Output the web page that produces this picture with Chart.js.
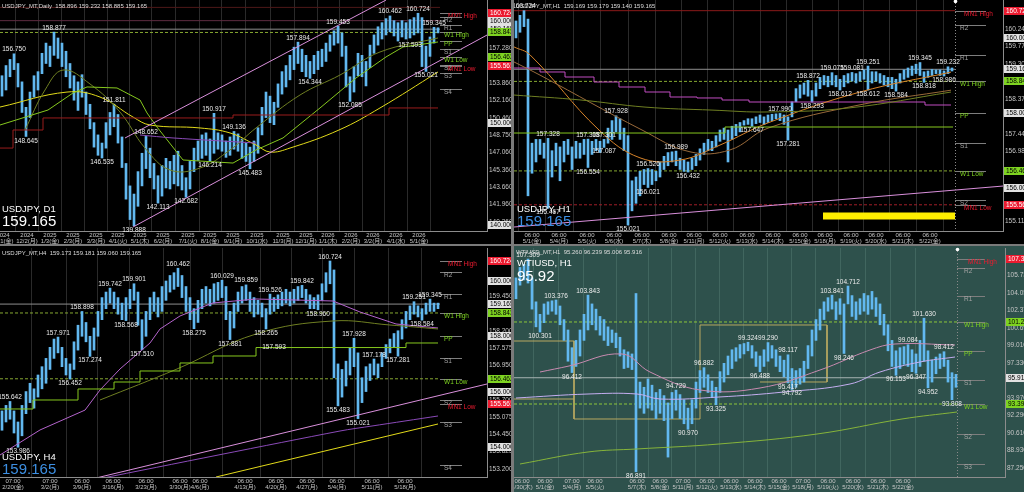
<!DOCTYPE html>
<html><head><meta charset="utf-8">
<script src="https://cdn.jsdelivr.net/npm/chart.js@4.4.1/dist/chart.umd.min.js"></script>
<style>
html,body{margin:0;padding:0;width:1024px;height:492px;overflow:hidden;background:#7a7a7a;}
canvas{position:absolute;display:block;}
</style></head><body>
<canvas id="pD1" style="left:0px;top:0px;width:511px;height:244px" width="511" height="244"></canvas>
<canvas id="pH1" style="left:514px;top:0px;width:510px;height:244px" width="510" height="244"></canvas>
<canvas id="pH4" style="left:0px;top:246px;width:511px;height:246px" width="511" height="246"></canvas>
<canvas id="pWTI" style="left:514px;top:246px;width:510px;height:246px" width="510" height="246"></canvas>
<script>
// ================= DATA =================
// --- USDJPY Daily (bar ranges, each bar ~4 sessions) ---
const d1Low = [152.6,153.2,154.5,155.2,153.5,151.0,148.645,150.5,152.5,153.2,
154.8,155.8,155.5,156.6,156.3,155.5,154.5,153.4,152.2,151.2,
152.5,150.8,149.4,147.6,146.8,146.535,147.5,148.8,149.6,148.0,
145.6,142.5,140.5,139.888,141.8,143.8,145.5,144.6,143.5,142.113,
142.8,143.6,143.5,144.0,143.8,143.4,142.682,143.5,145.2,146.3,
146.5,146.8,146.214,147.0,147.4,147.2,146.6,146.8,147.4,147.2,
146.5,146.2,145.483,146.2,147.0,148.8,150.5,150.0,149.8,151.5,
152.8,153.5,154.2,155.2,155.8,155.0,154.5,154.344,154.8,155.2,
155.5,156.0,157.0,157.6,157.8,156.5,153.5,152.085,153.0,154.6,
154.5,153.6,155.4,156.8,157.6,158.2,158.6,158.9,158.5,158.0,
158.4,158.2,158.3,158.6,158.8,155.5,155.021,156.5,157.8,158.8];
const d1High = [154.6,155.6,156.2,156.75,155.8,154.0,151.5,153.0,154.6,155.0,
156.8,157.8,157.5,158.877,158.3,157.8,157.0,155.8,154.6,154.0,
154.7,153.0,151.8,150.0,148.8,148.0,150.0,151.0,151.811,150.8,
148.6,146.0,143.8,143.0,145.2,147.0,148.652,147.5,146.0,144.8,
145.8,146.5,146.2,146.8,147.2,145.8,144.6,146.2,147.5,148.2,
148.8,149.0,148.4,150.917,149.0,148.8,148.2,148.6,149.136,148.9,
148.4,148.0,147.6,148.2,149.5,151.5,153.0,152.6,152.0,153.8,
155.0,155.6,156.6,157.4,157.894,157.2,156.6,156.0,156.6,157.0,
157.2,157.8,158.6,159.0,159.453,158.8,157.5,154.5,155.5,156.8,
156.6,156.0,157.6,158.6,159.4,159.8,160.2,160.462,160.0,159.8,
160.0,159.8,160.1,160.3,160.724,160.3,157.5,158.4,159.345,159.3];
const d1TimeIdx = [0.25,6.25,12,17.75,23.5,29,34.5,40.25,46.5,52,57.75,63.75,70.25,76,81.5,87.25,92.75,98.5,104.25];
const d1TimeLbl = [['2024','11/1(金)'],['2024','12/2(月)'],['2025','1/3(金)'],['2025','2/3(月)'],['2025','3/3(月)'],['2025','4/1(火)'],['2025','5/1(木)'],['2025','6/2(月)'],['2025','7/1(火)'],['2025','8/1(金)'],['2025','9/1(月)'],['2025','10/1(水)'],['2025','11/3(月)'],['2025','12/1(月)'],['2026','1/1(木)'],['2026','2/2(月)'],['2026','3/2(月)'],['2026','4/1(水)'],['2026','5/1(金)']];
const d1PriceTicks = [140.26,141.96,143.66,145.36,147.06,148.75,150.46,152.16,153.86,157.28];
const d1BoxVals = [160.724,160.000,159.165,158.843,156.462,155.561,150.000,140.000];
const d1BoxKinds = ['R','W','W','G','G','R','W','W'];
const d1MarkIdx = [3,6,13,25,28,33,36,39,46,52,53,58,62,74,77,84,87,97,104,106,108,102];
const d1MarkVal = [156.750,148.645,158.877,146.535,151.811,139.888,148.652,142.113,142.682,146.214,150.917,149.136,145.483,157.894,154.344,159.453,152.085,160.462,160.724,155.021,159.345,157.593];
const d1MarkDir = [1,-1,1,-1,1,-1,1,-1,-1,-1,1,1,-1,1,-1,1,-1,1,1,-1,1,0];
const d1ChanHiIdx = [30.75,96], d1ChanHiVal = [148.495,162.02];
const d1ChanLoIdx = [32.75,121.25], d1ChanLoVal = [139.77,158.59];
const d1YellowIdx = [-0.5,16.25,24.5,32.75,37,49.5,57,63.5,67,72,84.25,94.5,109];
const d1YellowVal = [151.53,153.0,152.51,150.55,149.77,149.48,148.99,147.81,147.12,147.51,149.28,151.44,154.97];
const d1OliveIdx = [5.75,10.75,15.25,22,29.5,35.75,42,49.5,57,63.5,74.5,84.5,94.5,109];
const d1OliveVal = [149.28,153.2,155.16,153.79,151.04,147.51,145.36,145.55,147.32,149.48,152.71,154.67,156.93,158.3];
const d1LimeIdx = [-0.5,11.5,17.75,21.25,28.75,34.5,36.25,38.75,45.25,57.75,63.5,70.25,79.5,88.5,96,100.25,109];
const d1LimeVal = [149.77,151.24,152.91,153.5,153.4,152.22,150.95,149.57,146.34,146.04,147.32,148.5,151.44,154.38,156.44,157.42,157.91];
const d1RedIdx = [-0.5,2.75,10.25,57.75,96.75,109];
const d1RedVal = [147.51,149.28,150.46,150.75,151.44,151.44];
const d1VioletIdx = [34.5,42.75,63.5], d1VioletVal = [148.79,148.5,148.0];

// --- USDJPY H1 ---
const h1Low = [160.0,160.15,160.3,155.8,156.4,156.7,156.9,156.8,155.467,156.3,
156.6,156.2,156.7,156.9,156.5,156.8,156.8,156.9,156.554,156.9,
157.0,156.95,157.087,157.2,157.3,157.5,157.3,157.0,155.021,155.4,
155.6,155.8,156.1,156.021,156.1,156.2,156.3,156.5,156.6,156.7,
156.6,156.5,156.45,156.432,156.5,156.6,156.75,156.9,157.0,157.0,
157.1,157.25,157.3,156.7,157.3,157.4,157.5,157.68,157.7,157.647,
157.72,157.75,157.7,157.75,157.8,157.85,157.8,157.7,157.281,157.9,
158.3,158.4,158.5,158.45,158.293,158.45,158.65,158.75,158.7,158.75,
158.7,158.612,158.7,158.8,158.85,158.8,158.85,158.9,158.612,158.8,
158.85,158.8,158.75,158.7,158.65,158.584,158.8,158.9,158.95,159.0,
159.05,159.0,158.818,158.95,159.0,159.05,159.0,158.986,159.05,159.12];
const h1High = [160.45,160.6,160.724,160.5,157.2,157.3,157.3,157.2,157.328,157.0,
157.2,157.1,157.25,157.3,157.1,157.25,157.2,157.3,157.308,157.25,
157.3,157.25,157.301,157.6,157.8,157.928,157.85,157.6,157.4,156.2,
156.3,156.45,156.5,156.526,156.5,156.45,156.7,156.85,156.95,156.97,
156.989,156.8,156.75,156.7,156.8,156.9,157.05,157.2,157.3,157.25,
157.4,157.55,157.6,157.55,157.65,157.7,157.75,157.8,157.85,157.85,
157.9,157.95,157.9,157.95,157.97,157.98,157.99,157.95,157.9,158.3,
158.65,158.75,158.8,158.872,158.6,158.8,158.95,159.0,158.98,159.075,
159.0,158.9,159.0,159.05,159.081,159.05,159.1,159.15,159.251,159.1,
159.1,159.05,159.0,158.95,158.95,158.9,159.05,159.15,159.2,159.25,
159.3,159.345,159.1,159.12,159.16,159.15,159.15,159.12,159.232,159.2];
const h1TimeIdx = [4,10.75,17.75,24.5,31.5,38.25,44.5,51,57.75,64.25,71,77.25,83.75,90,96.75,103.5];
const h1TimeLbl = [['06:00','5/1(金)'],['06:00','5/4(月)'],['06:00','5/5(火)'],['06:00','5/6(水)'],['06:00','5/7(木)'],['06:00','5/8(金)'],['06:00','5/11(月)'],['06:00','5/12(火)'],['06:00','5/13(水)'],['06:00','5/14(木)'],['06:00','5/15(金)'],['06:00','5/18(月)'],['06:00','5/19(火)'],['06:00','5/20(水)'],['06:00','5/21(木)'],['06:00','5/22(金)']];
const h1PriceTicks = [160.24,159.77,159.30,158.375,157.445,156.98,155.115];
const h1BoxVals = [160.724,160.000,159.165,158.843,158.000,156.462,156.000,155.561];
const h1BoxKinds = ['R','W','W','G','W','G','W','R'];
const h1MarkIdx = [2,8,8,18,18,22,22,25,28,33,33,40,43,59,66,68,73,74,79,81,84,88,88,95,101,102,107,108];
const h1MarkVal = [160.724,157.328,155.467,157.308,156.554,157.301,157.087,157.928,155.021,156.526,156.021,156.989,156.432,157.647,157.990,157.281,158.872,158.293,159.075,158.612,159.081,159.251,158.612,158.584,159.345,158.818,158.986,159.232];
const h1MarkDir = [1,1,-1,1,-1,1,-1,1,-1,1,-1,1,-1,-1,1,-1,1,-1,1,-1,1,1,-1,-1,1,-1,-1,1];
const h1OliveIdx = [-0.5,16,32.25,49,63,83.5,108.75], h1OliveVal = [158.48,158.35,158.16,158.08,158.03,158.14,158.56];
const h1OrangeIdx = [-0.5,3.5,20.75,31,41,51,63,86,108.75], h1OrangeVal = [159.76,159.55,157.55,156.81,156.75,157.15,157.74,158.56,159.09];
const h1BrownIdx = [-0.5,6,31.5,43.5,53.5,63,86,108.75], h1BrownVal = [159.36,159.01,157.55,156.97,157.02,157.6,158.22,158.61];
const h1MagIdx = [-0.5,6,12.25,19.5,25.75,32.25,38.5,45.25,51.5,58.25,102.25,108.75];
const h1MagVal = [159.199,159.093,158.96,158.827,158.694,158.561,158.428,158.402,158.348,158.295,158.215,158.215];
const h1LimeIdx = [-0.5,52.25,109.25], h1LimeVal = [157.47,157.63,157.63];
const h1TrendIdx = [-0.5,121.75], h1TrendVal = [154.97,156.06];
const h1YellowIdx = [76.75,109.75], h1YellowVal = [155.26,155.26];

// --- USDJPY H4 ---
const h4Low = [154.6,154.9,155.0,154.5,153.986,154.4,155.2,155.6,155.4,155.8,
156.1,156.3,156.8,157.2,157.4,156.9,156.6,156.452,156.8,157.5,
158.0,157.8,157.274,157.5,158.0,158.6,159.0,159.2,159.0,158.8,
158.6,158.568,159.0,159.3,158.4,157.51,158.0,158.6,158.9,158.7,
158.9,159.3,159.6,159.7,159.8,159.4,158.9,158.6,158.275,158.5,
159.0,159.2,159.1,159.2,159.3,159.4,158.6,157.881,158.3,158.9,
159.2,159.3,158.9,158.7,158.8,158.7,158.265,158.8,158.9,159.0,
159.1,159.2,159.1,159.2,159.3,159.4,159.2,159.0,159.0,158.96,
159.3,159.6,159.9,156.5,155.483,155.8,156.2,156.6,156.9,155.021,
155.6,156.0,156.4,156.6,156.5,156.9,157.2,157.4,157.6,157.281,
157.9,158.3,158.6,158.8,158.7,158.584,158.8,158.9,158.9,159.0];
const h4High = [155.3,155.5,155.642,155.3,154.9,155.5,156.0,156.3,156.1,156.6,
156.9,157.2,157.6,157.9,157.971,157.6,157.2,157.0,157.8,158.4,
158.898,158.5,158.0,158.3,158.9,159.4,159.6,159.742,159.6,159.4,
159.2,159.4,159.7,159.901,159.6,158.6,158.9,159.4,159.6,159.4,
159.8,160.0,160.2,160.3,160.462,160.2,159.8,159.4,159.0,159.3,
159.7,159.8,159.7,159.9,159.95,160.029,159.8,158.9,159.2,159.6,
159.8,159.859,159.6,159.4,159.3,159.2,159.0,159.526,159.4,159.5,
159.6,159.7,159.6,159.7,159.8,159.842,159.7,159.5,159.4,159.5,
159.9,160.3,160.724,160.4,157.0,156.8,157.1,157.6,157.928,157.4,
156.5,156.9,157.0,157.178,157.0,157.4,157.7,157.9,158.1,158.2,
158.6,158.9,159.1,159.251,159.1,159.0,159.2,159.345,159.2,159.2];
const h4TimeIdx = [2.75,12,20,27.75,36,44.5,49.5,60.75,68.5,76.25,83.75,92.5,100.75];
const h4TimeLbl = [['07:00','2/20(金)'],['07:00','3/2(月)'],['06:00','3/9(月)'],['06:00','3/16(月)'],['06:00','3/23(月)'],['06:00','3/30(月)'],['06:00','4/6(月)'],['06:00','4/13(月)'],['06:00','4/20(月)'],['06:00','4/27(月)'],['06:00','5/4(月)'],['06:00','5/11(月)'],['06:00','5/18(月)']];
const h4PriceTicks = [159.45,158.2,157.575,156.95,155.7,155.075,154.45,153.825,153.2];
const h4BoxVals = [160.724,160.000,159.165,158.843,158.000,156.462,156.000,155.561,154.000];
const h4BoxKinds = ['R','W','W','G','W','G','W','R','W'];
const h4MarkIdx = [2,4,14,17,20,22,27,31,33,35,44,48,55,57,61,66,67,75,79,82,84,88,89,93,99,103,105,107,68];
const h4MarkVal = [155.642,153.986,157.971,156.452,158.898,157.274,159.742,158.568,159.901,157.510,160.462,158.275,160.029,157.881,159.859,158.265,159.526,159.842,158.960,160.724,155.483,157.928,155.021,157.178,157.281,159.251,158.584,159.345,157.593];
const h4MarkDir = [1,-1,1,-1,1,-1,1,-1,1,-1,1,-1,1,-1,1,-1,1,1,-1,1,-1,1,-1,1,-1,1,-1,1,0];
const h4VioletIdx = [-0.5,9.5,20.75,24.5,29.5,37,39.5,44.5,49.5,52.75,63.5,82.75,89.5,98.5,109];
const h4VioletVal = [153.705,154.61,155.33,156.057,156.817,157.757,158.264,158.734,159.024,159.205,159.349,159.277,158.879,158.445,158.30];
const h4OliveIdx = [24.5,43.75,63.5,82.75,97,109], h4OliveVal = [155.695,156.817,158.083,158.554,158.408,158.264];
const h4LimeIdx = [-0.5,7.75,19,28,34.5,44.5,52.75,63.5,101,109];
const h4LimeVal = [155.37,155.695,156.093,156.346,156.744,157.034,157.287,157.593,157.757,157.757];
const h4YellowIdx = [53.5,109], h4YellowVal = [152.909,154.827];
const h4TrendIdx = [22.5,121.25], h4TrendVal = [152.837,156.274];
const h4PurpleIdx = [24,84.5,92.5,109], h4PurpleVal = [152.837,154.573,154.754,155.116];

// --- shared USDJPY pivot levels ---
const usdLevelNames = ['MN1 High','R2','R1','W1 High','PP','S1','W1 Low','S2','MN1 Low','S3','S4'];
const usdLevelVals = [160.724,160.34,159.545,158.843,158.0,157.205,156.462,155.69,155.561,154.9,153.344];
const usdLevelKind = ['R','N','N','G','G','N','G','N','R','N','N'];

// --- WTIUSD H1 ---
const wtiLow = [103.5,104.8,105.3,105.0,102.5,100.8,100.301,101.2,102.0,102.3,
102.0,101.0,99.5,97.5,96.412,97.0,98.0,99.5,100.5,101.0,
100.5,100.0,99.5,99.0,99.3,98.8,98.0,96.8,96.9,96.7,
86.891,93.0,92.5,93.0,92.8,92.0,92.5,91.8,88.3,92.0,
92.8,92.0,91.5,90.97,91.5,93.0,94.5,95.0,94.5,94.0,
93.325,94.5,95.5,96.2,96.8,97.5,97.8,98.2,98.5,97.8,
97.0,96.488,97.0,97.5,97.8,97.0,96.5,96.0,95.417,94.792,
95.0,95.3,95.5,96.8,98.0,99.5,100.5,101.5,102.3,102.5,
101.5,102.0,98.246,103.0,101.8,101.5,102.0,102.3,102.0,102.5,
101.8,101.0,100.0,98.5,97.0,96.153,96.8,97.2,97.0,96.5,
96.347,97.0,97.5,94.952,95.5,96.3,96.8,97.0,95.5,93.808,95.0];
const wtiHigh = [105.5,106.5,106.8,107.309,105.5,103.2,102.0,103.0,103.2,103.3,
103.376,102.8,101.5,100.5,98.8,99.5,100.5,102.0,103.843,103.0,
102.5,101.8,101.5,100.8,100.5,100.2,99.8,98.6,98.4,98.2,
104.0,95.5,95.0,95.8,95.2,94.5,94.8,94.2,93.5,94.5,
94.729,94.3,93.8,93.0,93.8,95.5,96.6,96.882,96.2,95.6,
95.0,96.5,97.3,98.0,98.6,98.8,99.1,99.2,99.324,99.0,
98.4,98.0,98.6,99.29,99.0,98.6,98.0,97.6,98.117,96.8,
96.6,96.8,97.5,99.0,100.5,101.5,102.5,103.2,103.6,103.841,
103.2,103.5,103.0,104.712,103.8,103.2,103.5,104.0,103.8,104.2,
103.6,103.0,102.0,101.0,99.5,98.5,98.8,98.9,99.084,98.6,
98.2,99.5,101.63,98.5,97.6,97.9,98.2,98.412,97.6,96.4,96.24];
const wtiTimeIdx = [1.5,7.25,14,19.75,30.25,36,41.75,47.75,53.75,59.75,65.75,71.75,78,84.25,90.5,96.75];
const wtiTimeLbl = [['06:00','4/30(木)'],['06:00','5/1(金)'],['07:00','5/4(月)'],['06:00','5/5(火)'],['06:00','5/7(木)'],['06:00','5/8(金)'],['07:00','5/11(月)'],['06:00','5/12(火)'],['06:00','5/13(水)'],['06:00','5/14(木)'],['06:00','5/15(金)'],['07:00','5/18(月)'],['06:00','5/19(火)'],['06:00','5/20(水)'],['06:00','5/21(木)'],['06:00','5/22(金)']];
const wtiPriceTicks = [105.73,104.05,102.37,100.69,99.01,97.33,93.97,92.29,90.61,88.93,87.25];
const wtiBoxVals = [107.309,101.265,95.916,93.395];
const wtiBoxKinds = ['R','G','W','G'];
const wtiMarkIdx = [3,6,10,14,18,30,40,43,47,50,58,61,63,68,68,69,79,82,83,95,98,100,102,103,107,109];
const wtiMarkVal = [107.309,100.301,103.376,96.412,103.843,86.891,94.729,90.970,96.882,93.325,99.324,96.488,99.290,98.117,95.417,94.792,103.841,98.246,104.712,96.153,99.084,96.347,101.630,94.952,98.412,93.808];
const wtiMarkDir = [1,-1,1,-1,1,-1,1,-1,1,-1,1,-1,1,1,-1,-1,1,-1,1,-1,1,-1,1,-1,1,-1];
const wtiGreenIdx = [1,18,30.25,50.75,75.25,96.5,110.25], wtiGreenVal = [87.637,88.79,89.08,89.556,90.516,91.956,92.628];
const wtiLavIdx = [0,18,30.25,36,50.75,67,83.5,91,101,109.75], wtiLavVal = [93.971,94.355,94.355,93.875,94.067,94.547,95.315,96.466,97.426,97.906];
const wtiMauveIdx = [6,13.25,26.5,33.5,46,61,76,88.5,94.75,109.75], wtiMauveVal = [96.466,97.042,98.194,96.466,94.739,94.931,96.658,98.578,99.154,99.058];
const wtiBoxLineIdx = [-0.5,14.5,14.5,46,46,77.75,77.75,61], wtiBoxLineVal = [99.441,99.441,91.956,91.956,100.977,100.977,95.507,95.507];
const wtiBox2Idx = [-0.5,14.5], wtiBox2Val = [93.875,93.875];
const wtiLevelNames = ['MN1 High','R2','R1','W1 High','PP','S1','W1 Low','S2','S3'];
const wtiLevelVals = [107.309,106.447,103.76,101.265,98.48,95.70,93.395,90.516,87.637];
const wtiLevelKind = ['R','N','N','G','G','N','G','N','N'];

// ================= RENDER =================
const FONT = '"Liberation Sans","Noto Sans CJK JP",sans-serif';
const KCOL = {R:'#ec1b30', G:'#7ed321', N:'#a4a4a4', W:'#e2e2e2'};
function pts(xs, ys){ return xs.map((x,k)=>({x:x, y:ys[k]})); }
function L(xs, ys, c, o){ return Object.assign({x:xs, y:ys, c:c}, o||{}); }

function panel(id, P){
  const ds = [];
  ds.push({type:'bar', data:P.low.map((lo,i)=>({x:i, y:[lo, P.high[i]]})), backgroundColor:'#62b8f0', barThickness:2, grouped:false, order:1});
  P.lines.forEach(l=>ds.push({type:'line', data:pts(l.x,l.y), borderColor:l.c, borderWidth:l.w||1,
    borderDash:l.d||[], stepped:l.s?'before':false, tension:l.t||0, pointRadius:0, fill:false,
    order:(l.o===undefined?0:l.o)}));
  const deco = {
    id:'deco_'+id,
    beforeDraw(c){ const x=c.ctx; x.save(); x.fillStyle=P.bg; x.fillRect(0,0,c.width,c.height); x.restore(); },
    afterDatasetsDraw(c){
      const ctx=c.ctx, xs=c.scales.x, ys=c.scales.y, a=c.chartArea;
      ctx.save();
      if(P.nowIdx!==undefined){
        const vx=Math.round(xs.getPixelForValue(P.nowIdx))+0.5;
        ctx.strokeStyle='#8a8a8a'; ctx.setLineDash([1,2]); ctx.lineWidth=1;
        ctx.beginPath(); ctx.moveTo(vx,a.top); ctx.lineTo(vx,a.bottom); ctx.stroke(); ctx.setLineDash([]);
        ctx.fillStyle='#ffffff'; ctx.beginPath(); ctx.arc(vx,a.top+1.5,1.8,0,Math.PI*2); ctx.fill();
      }
      ctx.font='6.5px '+FONT; ctx.textAlign='left'; ctx.textBaseline='middle';
      P.lvNames.forEach((n,k)=>{
        const y=Math.round(ys.getPixelForValue(P.lvVals[k]))+0.5;
        ctx.strokeStyle='#7e7e7e'; ctx.lineWidth=1;
        ctx.beginPath(); ctx.moveTo(xs.getPixelForValue(P.lvL0),y); ctx.lineTo(xs.getPixelForValue(P.lvL1),y); ctx.stroke();
        ctx.fillStyle=KCOL[P.lvKind[k]];
        ctx.fillText(n, xs.getPixelForValue(P.lvKind[k]==='R'?P.lvT+1:P.lvT), y+3);
      });
      ctx.fillStyle='#ececec'; ctx.textAlign='center';
      P.mIdx.forEach((i,k)=>{
        const v=P.mVal[k], d=P.mDir[k], x=xs.getPixelForValue(i); let y=ys.getPixelForValue(v);
        if(d>0){ ctx.textBaseline='bottom'; y-=1; } else if(d<0){ ctx.textBaseline='top'; y+=1; } else { ctx.textBaseline='middle'; }
        ctx.fillText(v.toFixed(3), x, y);
      });
      ctx.textAlign='left'; ctx.textBaseline='alphabetic';
      ctx.fillStyle='#dcdcdc'; ctx.font='6px '+FONT; ctx.fillText(P.header, 2, P.headerY);
      ctx.fillStyle='#ffffff'; ctx.font='9.5px '+FONT; ctx.fillText(P.sym, P.tx, P.symY);
      ctx.fillStyle=P.priceCol; ctx.font='15px '+FONT; ctx.fillText(P.price, P.tx, P.priceY);
      ctx.restore();
    },
    afterDraw(c){
      const ctx=c.ctx, ys=c.scales.y, a=c.chartArea;
      ctx.save();
      ctx.font='6.5px '+FONT; ctx.textAlign='left'; ctx.textBaseline='middle';
      P.boxVals.forEach((v,k)=>{
        const y=Math.round(ys.getPixelForValue(v)); const x0=a.right+1; const kd=P.boxKinds[k];
        ctx.fillStyle=KCOL[kd]; ctx.fillRect(x0,y-4,c.width-x0,8);
        ctx.fillStyle=kd==='R'?'#ffffff':'#000000'; ctx.fillText(v.toFixed(3), x0+2, y+0.5);
      });
      ctx.restore();
    }
  };
  new Chart(document.getElementById(id), {
    type:'bar',
    data:{datasets:ds},
    options:{
      responsive:false, animation:false, devicePixelRatio:1, events:[],
      layout:{padding:{top:P.padTop||0,left:0,right:0,bottom:0}},
      plugins:{legend:{display:false}, tooltip:{enabled:false}},
      scales:{
        x:{type:'linear', min:P.xMin, max:P.xMax, offset:false,
          grid:{color:P.grid, drawTicks:false, lineWidth:1},
          border:{display:true, color:'#8c8c8c'},
          ticks:{autoSkip:false, maxRotation:0, minRotation:0, color:'#c6c6c6', padding:1,
            font:{family:FONT, size:6, lineHeight:1.05}, callback:(v,i)=>P.xLbl[i]},
          afterBuildTicks:s=>{ s.ticks=P.xIdx.map(v=>({value:v})); },
          afterFit:s=>{ s.height=P.xH; s.paddingLeft=0; s.paddingRight=0; }},
        y:{type:'linear', position:'right', min:P.yMin, max:P.yMax,
          grid:{display:false, drawTicks:false},
          border:{display:true, color:'#8c8c8c'},
          ticks:{autoSkip:false, color:'#c6c6c6', padding:2, font:{family:FONT, size:6.5},
            callback:v=>Number(v).toFixed(3)},
          afterBuildTicks:s=>{ s.ticks=P.yTicks.map(v=>({value:v})); },
          afterFit:s=>{ s.width=P.yW; s.paddingTop=0; s.paddingBottom=0; }}
      }
    },
    plugins:[deco]
  });
}

const PINK='#d98fdb', YEL='#e2da1a', OLV='#6f7f22', LIME='#86c81e', GRN_D='#86a832', CUR='#8e8e8e';

panel('pD1', {
  bg:'#000000', grid:'#2a2a2a', low:d1Low, high:d1High,
  xMin:-0.5, xMax:121.25, yMin:139.378, yMax:162.025, xH:13, yW:24,
  xIdx:d1TimeIdx, xLbl:d1TimeLbl, yTicks:d1PriceTicks,
  boxVals:d1BoxVals, boxKinds:d1BoxKinds,
  mIdx:d1MarkIdx, mVal:d1MarkVal, mDir:d1MarkDir,
  lvNames:usdLevelNames, lvVals:usdLevelVals, lvKind:usdLevelKind, lvL0:109.5, lvL1:115, lvT:110.5,
  header:'USDJPY_MT,Daily  158.896 159.232 158.885 159.165', headerY:8,
  sym:'USDJPY, D1', price:'159.165', priceCol:'#ffffff', tx:2, symY:212, priceY:226,
  lines:[
    L([-0.5,109.5],[161.3,161.3],'#4e1818',{o:3}),
    L([-0.5,109.5],[160.0,160.0],'#5e2c40',{o:3}),
    L([-0.5,109.5],[159.165,159.165],CUR,{o:3}),
    L([-0.5,109.5],[158.843,158.843],GRN_D,{o:3,d:[3,2]}),
    L(d1ChanHiIdx,d1ChanHiVal,PINK),
    L(d1ChanLoIdx,d1ChanLoVal,PINK),
    L(d1RedIdx,d1RedVal,'#9a1c1c',{s:true}),
    L(d1VioletIdx,d1VioletVal,'#8a4ab8',{t:0.3}),
    L(d1LimeIdx,d1LimeVal,LIME),
    L(d1OliveIdx,d1OliveVal,OLV,{t:0.4}),
    L(d1YellowIdx,d1YellowVal,YEL,{t:0.4})
  ]
});

panel('pH1', {
  bg:'#000000', grid:'#2a2a2a', low:h1Low, high:h1High,
  xMin:-0.5, xMax:121.75, yMin:154.864, yMax:161.008, xH:13, yW:21,
  xIdx:h1TimeIdx, xLbl:h1TimeLbl, yTicks:h1PriceTicks,
  boxVals:h1BoxVals, boxKinds:h1BoxKinds,
  mIdx:h1MarkIdx, mVal:h1MarkVal, mDir:h1MarkDir,
  lvNames:usdLevelNames.slice(0,9), lvVals:usdLevelVals.slice(0,9), lvKind:usdLevelKind.slice(0,9), lvL0:109.75, lvL1:117.5, lvT:111,
  nowIdx:109.75,
  header:'USDJPY_MT,H1  159.169 159.179 159.140 159.165', headerY:8,
  sym:'USDJPY, H1', price:'159.165', priceCol:'#3d8fe2', tx:3, symY:212, priceY:226,
  lines:[
    L([-0.5,109.75],[160.724,160.724],'#8c1a1a',{o:3}),
    L([-0.5,109.75],[159.165,159.165],CUR,{o:3}),
    L([-0.5,109.75],[158.843,158.843],GRN_D,{o:3,d:[3,2]}),
    L([-0.5,109.75],[156.462,156.462],GRN_D,{o:3,d:[3,2]}),
    L([-0.5,109.75],[155.561,155.561],'#a01e28',{o:3,d:[3,2]}),
    L(h1TrendIdx,h1TrendVal,PINK),
    L(h1LimeIdx,h1LimeVal,LIME,{s:true}),
    L(h1OliveIdx,h1OliveVal,OLV,{t:0.4}),
    L(h1BrownIdx,h1BrownVal,'#9a6a3a',{t:0.4}),
    L(h1OrangeIdx,h1OrangeVal,'#d8842a',{t:0.4}),
    L(h1MagIdx,h1MagVal,'#c04cc0',{s:true}),
    L(h1YellowIdx,h1YellowVal,'#ffee00',{w:7})
  ]
});

panel('pH4', {
  bg:'#000000', grid:'#2a2a2a', low:h4Low, high:h4High, padTop:2,
  xMin:-0.5, xMax:121.25, yMin:152.909, yMax:161.194, xH:15, yW:24,
  xIdx:h4TimeIdx, xLbl:h4TimeLbl, yTicks:h4PriceTicks,
  boxVals:h4BoxVals, boxKinds:h4BoxKinds,
  mIdx:h4MarkIdx, mVal:h4MarkVal, mDir:h4MarkDir,
  lvNames:usdLevelNames, lvVals:usdLevelVals, lvKind:usdLevelKind, lvL0:109.5, lvL1:115, lvT:110.5,
  header:'USDJPY_MT,H4  159.173 159.181 159.060 159.165', headerY:9,
  sym:'USDJPY, H4', price:'159.165', priceCol:'#3d8fe2', tx:2, symY:214, priceY:228,
  lines:[
    L([-0.5,109.5],[159.165,159.165],CUR,{o:3}),
    L([-0.5,109.5],[158.843,158.843],GRN_D,{o:3,d:[3,2]}),
    L([-0.5,109.5],[156.462,156.462],GRN_D,{o:3,d:[3,2]}),
    L(h4TrendIdx,h4TrendVal,PINK),
    L(h4PurpleIdx,h4PurpleVal,'#8a4ab8',{t:0.3}),
    L(h4YellowIdx,h4YellowVal,YEL),
    L(h4LimeIdx,h4LimeVal,LIME,{s:true}),
    L(h4OliveIdx,h4OliveVal,OLV,{t:0.4}),
    L(h4VioletIdx,h4VioletVal,'#b464cc')
  ]
});

panel('pWTI', {
  bg:'#2e514c', grid:'#41665f', low:wtiLow, high:wtiHigh, padTop:2,
  xMin:-0.5, xMax:122.25, yMin:86.39, yMax:108.366, xH:15, yW:19,
  xIdx:wtiTimeIdx, xLbl:wtiTimeLbl, yTicks:wtiPriceTicks,
  boxVals:wtiBoxVals, boxKinds:wtiBoxKinds,
  mIdx:wtiMarkIdx, mVal:wtiMarkVal, mDir:wtiMarkDir,
  lvNames:wtiLevelNames, lvVals:wtiLevelVals, lvKind:wtiLevelKind, lvL0:110.25, lvL1:117.25, lvT:112,
  nowIdx:110.25,
  header:'WTIUSD_MT,H1  95.260 96.239 95.006 95.916', headerY:8,
  sym:'WTIUSD, H1', price:'95.92', priceCol:'#ffffff', tx:3, symY:20, priceY:35,
  lines:[
    L([-0.5,110.25],[101.265,101.265],'#8cc63a',{o:3,d:[3,2]}),
    L([-0.5,110.25],[95.916,95.916],'#a8b4b2',{o:3}),
    L([-0.5,110.25],[93.395,93.395],'#8cc63a',{o:3,d:[3,2]}),
    L(wtiBoxLineIdx,wtiBoxLineVal,'#b8a860',{o:3}),
    L(wtiBox2Idx,wtiBox2Val,'#b8a860',{o:3}),
    L(wtiGreenIdx,wtiGreenVal,'#86b43a',{t:0.4}),
    L(wtiMauveIdx,wtiMauveVal,'#c88ab0',{t:0.4}),
    L(wtiLavIdx,wtiLavVal,'#c4aef0',{t:0.4})
  ]
});
</script>
</body></html>
